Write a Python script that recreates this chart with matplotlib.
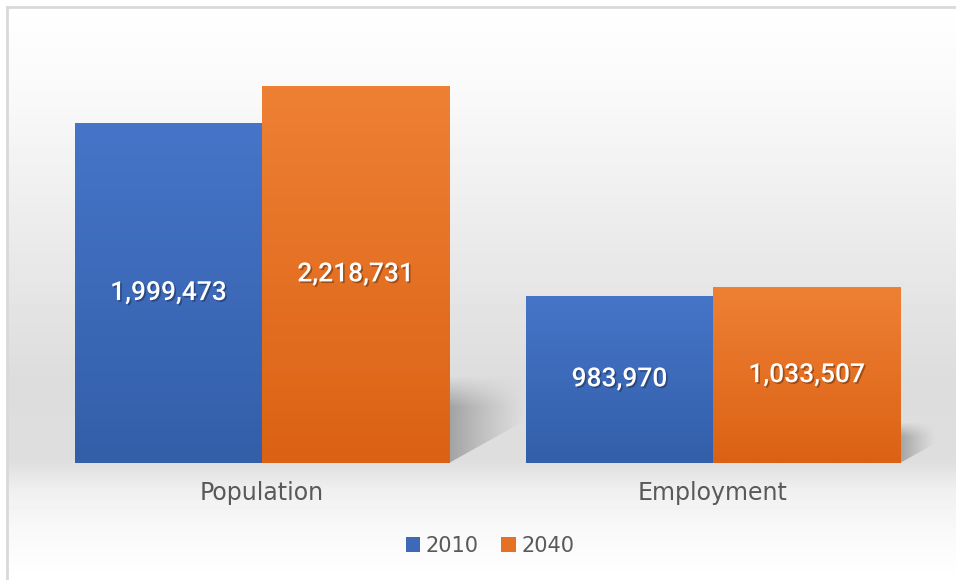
import numpy as np
import matplotlib.pyplot as plt
from matplotlib import patheffects
from matplotlib.colors import LinearSegmentedColormap
from matplotlib.patches import Polygon

categories = ['Population', 'Employment']
years = ['2010', '2040']
v2010 = [1999473, 983970]
v2040 = [2218731, 1033507]

blue_top, blue_bot = '#4674c8', '#335fa9'
orng_top, orng_bot = '#ee8034', '#db6215'

fig = plt.figure(figsize=(9.56, 5.8), dpi=100)

# background: soft grey band behind the bars, frame line on left/top
bg = fig.add_axes([0, 0, 1, 1], zorder=0)
ys = [0, 100, 250, 380, 460, 490, 530, 580]
vs = [1.0, 0.975, 0.915, 0.865, 0.87, 0.94, 0.975, 1.0]
col = np.interp(np.arange(7, 580), ys, vs)
bg.imshow(col[:, None], cmap='gray', vmin=0, vmax=1, aspect='auto',
          extent=[7/956, 1, 0, 1 - 7/580])
bg.plot([7/956, 7/956], [0, 1 - 7/580], color='#d9d9d9', lw=2)
bg.plot([7/956, 1], [1 - 7/580, 1 - 7/580], color='#d9d9d9', lw=2)
bg.set_xlim(0, 1); bg.set_ylim(0, 1)
bg.axis('off')

ax = fig.add_axes([36.5/956, 117/580, 902/956, 425/580], zorder=1)
ax.patch.set_alpha(0)
x = np.arange(len(categories))
w = 0.415

# shadows behind each group
for i in range(len(categories)):
    r = v2040[i]
    h = 0.23 * r
    d = 0.17 * r / v2040[0]
    xr = i + w
    poly = Polygon([(xr, 0), (xr, h), (xr + d, h), (xr + d, 0.5 * h)],
                   closed=True, facecolor='none', edgecolor='none')
    ax.add_patch(poly)
    u = np.linspace(0, 1, 60)[None, :]
    vv = np.linspace(1, 0, 60)[:, None]
    a = 0.55 * (1 - u) ** 1.2 * np.clip((1 - vv) / 0.35, 0, 1)
    img = np.zeros((60, 60, 4))
    img[..., :3] = 0.45
    img[..., 3] = a
    im = ax.imshow(img, extent=[xr, xr + d, 0, h], aspect='auto', zorder=1)
    im.set_clip_path(poly)

bars1 = ax.bar(x - w/2, v2010, w, color=blue_bot, label=years[0], zorder=2,
               edgecolor='#dfe6f2', linewidth=0.4)
bars2 = ax.bar(x + w/2, v2040, w, color=orng_bot, label=years[1], zorder=2,
               edgecolor='#f6d9c6', linewidth=0.4)

grad = np.linspace(0, 1, 100)[:, None]
for bars, top, bot in [(bars1, blue_top, blue_bot), (bars2, orng_top, orng_bot)]:
    cm = LinearSegmentedColormap.from_list('g', [top, bot])
    for b in bars:
        x0, y0 = b.get_x(), b.get_y()
        im = ax.imshow(grad, cmap=cm, aspect='auto', zorder=3,
                       extent=[x0, x0 + b.get_width(), y0, y0 + b.get_height()])
        im.set_clip_path(b)

shadow = [patheffects.withSimplePatchShadow(offset=(1.2, -1.2),
                                            shadow_rgbFace='black', alpha=0.3)]
for vals, off in [(v2010, -w/2), (v2040, w/2)]:
    for i, v in enumerate(vals):
        ax.text(i + off, v / 2, f'{v:,}', ha='center', va='center',
                color='white', fontsize=19, family='Roboto', weight='medium',
                zorder=5, path_effects=shadow)

ax.set_xlim(-0.5, 1.5)
ax.set_ylim(0, 2500000)
ax.set_xticks(x, categories)
ax.tick_params(axis='x', length=0, pad=13, labelsize=17, labelcolor='#595959')
ax.set_yticks([])
for s in ax.spines.values():
    s.set_visible(False)
for t in ax.get_xticklabels():
    t.set_family('DejaVu Sans')

leg = fig.legend(handles=[bars1, bars2], labels=years, loc='center',
                 bbox_to_anchor=(490/956, 1 - 546/580), ncol=2, frameon=False,
                 fontsize=15, labelcolor='#595959', handlelength=0.7,
                 handleheight=0.7, handletextpad=0.25, columnspacing=1.1)
for hnd, c in zip(leg.legend_handles, ['#3d69b8', '#e57124']):
    hnd.set_facecolor(c)
    hnd.set_edgecolor('none')

plt.savefig('out.png', dpi=100)
